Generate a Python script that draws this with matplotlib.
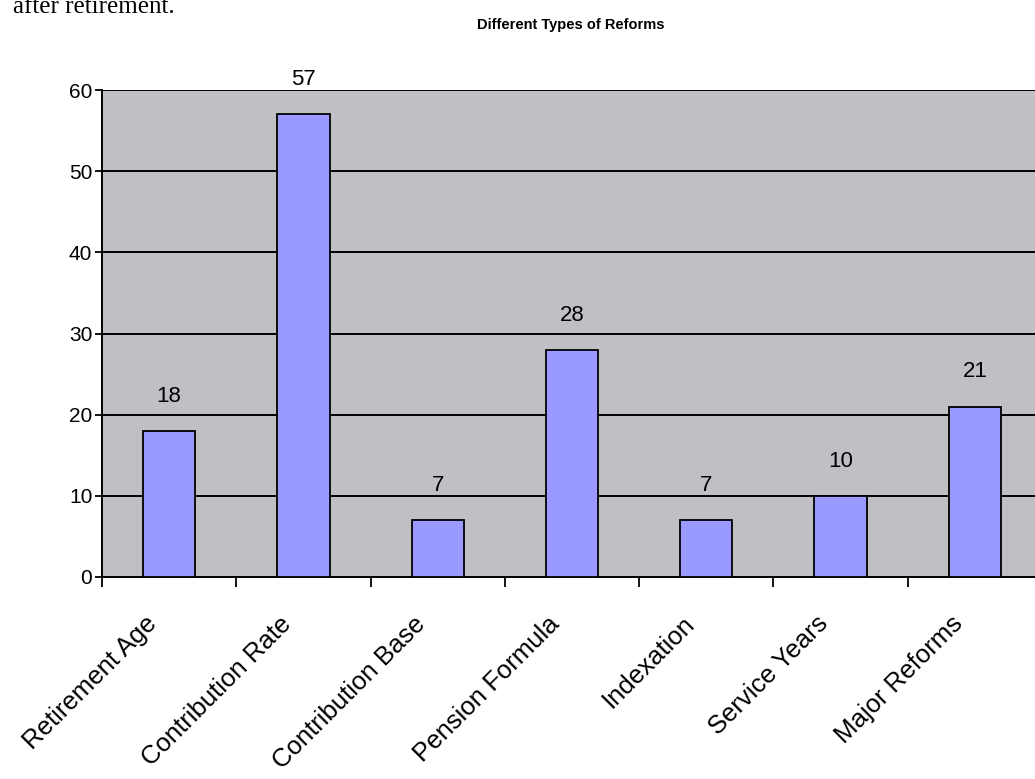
import numpy as np
import matplotlib
matplotlib.use("Agg")
import matplotlib.pyplot as plt
import matplotlib.transforms as mtransforms

# Data
categories = ["Retirement Age", "Contribution Rate", "Contribution Base",
              "Pension Formula", "Indexation", "Service Years", "Major Reforms"]
counts = [18, 57, 7, 28, 7, 10, 21]
y_ticks = [0, 10, 20, 30, 40, 50, 60]

W, H = 1035, 779
fig = plt.figure(figsize=(W / 100, H / 100), dpi=100)
fig.patch.set_facecolor("white")

# plot area in pixels: left 102, right ~1042 (cut by figure edge), top 90, bottom 577
left, right, top, bottom = 102, 1042, 90, 577
ax = fig.add_axes([left / W, 1 - bottom / H, (right - left) / W, (bottom - top) / H])
ax.set_facecolor("#C0C0C4")

x = np.arange(len(categories))
ax.bar(x, counts, width=0.39, color="#9999FF", edgecolor="black", linewidth=1.3, zorder=3)

for xi, v in zip(x, counts):
    ax.annotate(str(v), (xi, v), xytext=(0, 25), textcoords="offset points",
                ha="center", va="center", fontsize=16, family="Liberation Sans")

ax.set_xlim(-0.5, len(categories) - 0.5)
ax.set_ylim(0, 60)
ax.set_yticks(y_ticks)
ax.set_yticklabels([str(t) for t in y_ticks], fontsize=15, family="Liberation Sans")
ax.yaxis.grid(True, color="black", linewidth=1.4, zorder=1)
ax.set_axisbelow(True)

# category labels at centres, boundary ticks as minor ticks
ax.set_xticks(x)
ax.set_xticklabels(categories, rotation=45, ha="right", va="center",
                   rotation_mode="anchor", fontsize=18.5, family="Liberation Sans")
ax.set_xticks(np.arange(len(categories)) - 0.5, minor=True)
ax.tick_params(axis="x", which="major", length=0, pad=31)
ax.tick_params(axis="x", which="minor", length=7, width=1.3, color="black", direction="out")
ax.tick_params(axis="y", length=5, width=1.3, pad=2)
offset = mtransforms.ScaledTranslation(-16 / 100, 0, fig.dpi_scale_trans)
for lab in ax.get_xticklabels():
    lab.set_transform(lab.get_transform() + offset)

for side in ["top", "right"]:
    ax.spines[side].set_visible(False)
for side in ["left", "bottom"]:
    ax.spines[side].set_linewidth(1.4)
    ax.spines[side].set_color("black")

fig.text(571 / W, 1 - 25 / H, "Different Types of Reforms", ha="center", va="center",
         fontsize=10.5, fontweight="bold", family="Liberation Sans")
fig.text(13 / W, 1 - 13 / H, "after retirement.", ha="left", va="baseline",
         fontsize=18, family="Liberation Serif")

fig.savefig("out.png", dpi=100)
